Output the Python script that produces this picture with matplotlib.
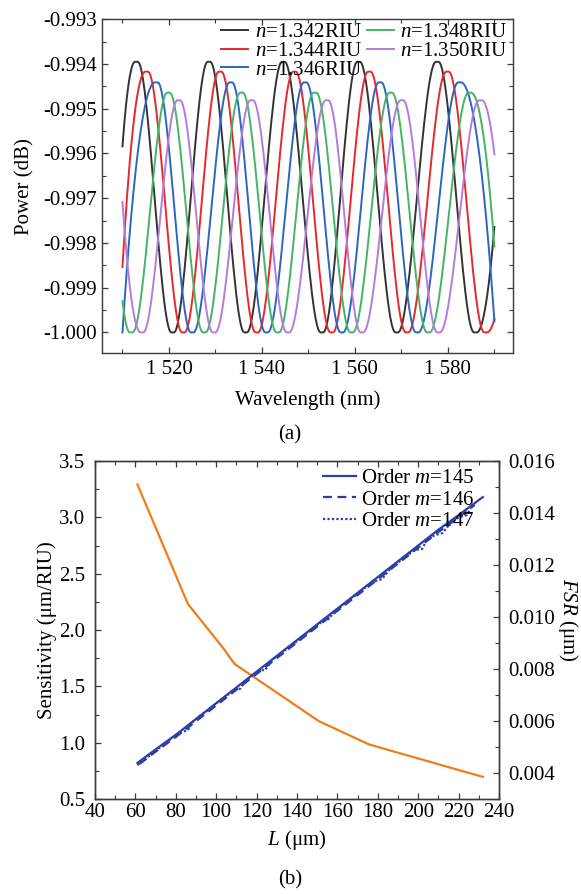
import numpy as np
import matplotlib
matplotlib.use('Agg')
import matplotlib.pyplot as plt
from matplotlib.ticker import MultipleLocator, FuncFormatter

plt.rcParams['font.family'] = ['Liberation Serif', 'DejaVu Serif']
plt.rcParams['mathtext.fontset'] = 'custom'
plt.rcParams['mathtext.rm'] = 'Liberation Serif'
plt.rcParams['mathtext.it'] = 'Liberation Serif:italic'
plt.rcParams['axes.unicode_minus'] = False
plt.rcParams['font.size'] = 15

# ---------------- (a) data ----------------
labels_a = ['$n$=1.342RIU', '$n$=1.344RIU', '$n$=1.346RIU', '$n$=1.348RIU', '$n$=1.350RIU']
colors_a = ['#333333', '#e8282c', '#2b66c2', '#45b467', '#b57bdc']
wl_start = 1510.0
wl_end = 1590.0
p_start = [-0.99584, -0.99854, -1.00000, -0.99930, -0.99708]
p_end = [-0.99764, -0.99970, -0.99975, -0.99808, -0.99602]
p_peak = [-0.99395, -0.99417, -0.99441, -0.99464, -0.99481]
p_trough = -1.000
peaks = [
    [1513.0, 1528.6, 1544.6, 1560.8, 1577.7],
    [1515.2, 1531.0, 1547.0, 1563.1, 1579.9],
    [1517.3, 1533.3, 1549.3, 1565.4, 1582.5],
    [1519.9, 1535.6, 1551.4, 1567.7, 1584.7],
    [1522.1, 1537.8, 1554.0, 1570.1, 1587.0],
]
troughs = [
    [1520.8, 1536.5, 1552.9, 1569.0, 1585.9],
    [1523.1, 1538.9, 1555.0, 1571.2, 1588.1],
    [1525.0, 1541.0, 1557.2, 1573.4],
    [1511.9, 1527.6, 1543.4, 1559.3, 1575.8],
    [1514.2, 1529.7, 1545.6, 1561.5, 1578.0],
]

# ---------------- (b) data ----------------
L_145 = [61, 70, 80, 90, 100, 110, 120, 130, 140, 150, 160, 170, 180, 190, 200, 210, 220, 232]
S_145 = [0.82, 0.94, 1.07, 1.21, 1.35, 1.49, 1.63, 1.77, 1.91, 2.05, 2.19, 2.33, 2.47, 2.61, 2.75, 2.89, 3.02, 3.18]
L_146 = [62, 70, 80, 90, 100, 110, 120, 130, 140, 150, 160, 170, 180, 190, 200, 210, 220, 228]
S_146 = [0.81, 0.92, 1.05, 1.19, 1.33, 1.47, 1.61, 1.75, 1.89, 2.03, 2.17, 2.31, 2.45, 2.59, 2.73, 2.87, 3.00, 3.11]
L_147 = [61, 66, 70, 74, 78, 82, 86, 88, 92, 96, 100, 104, 108, 112, 114, 118, 122, 124, 128, 132,
         136, 140, 144, 148, 152, 156, 158, 162, 166, 170, 174, 178, 182, 186, 190, 194, 198, 202,
         204, 208, 212, 216, 220, 224, 226]
S_147 = [0.80, 0.87, 0.93, 0.98, 1.04, 1.09, 1.11, 1.18, 1.24, 1.29, 1.35, 1.40, 1.46, 1.48, 1.54, 1.60,
         1.65, 1.64, 1.74, 1.79, 1.85, 1.90, 1.96, 2.01, 2.07, 2.10, 2.16, 2.21, 2.27, 2.32, 2.38, 2.43,
         2.45, 2.54, 2.60, 2.65, 2.71, 2.72, 2.79, 2.84, 2.86, 2.95, 3.00, 3.02, 3.08]
labels_b = ['Order $m$=145', 'Order $m$=146', 'Order $m$=147']
L_fsr = [61, 86, 103.5, 109, 150.7, 175.6, 232]
FSR = [0.0151, 0.0105, 0.0088, 0.0082, 0.0060, 0.0051, 0.00385]


def smooth_curve(i, n=30, flat=0.3):
    """Connect start point, extrema and end point with smooth segments."""
    ext = [(w, p_peak[i]) for w in peaks[i]] + [(w, p_trough) for w in troughs[i]]
    ext.sort()
    xs, ys = [], []
    x0, y0 = wl_start, p_start[i]
    x1, y1 = ext[0]
    t = np.linspace(0, 1, n)
    xs.append(x0 + (x1 - flat - x0) * t)
    ys.append(y0 + (y1 - y0) * (2 * t - t ** 2))
    for k in range(len(ext) - 1):
        xa, ya = ext[k]
        xb, yb = ext[k + 1]
        t = np.linspace(0, 1, n)
        xs.append(xa + flat + (xb - xa - 2 * flat) * t)
        ys.append(ya + (yb - ya) * (3 * t ** 2 - 2 * t ** 3))
    xa, ya = ext[-1]
    t = np.linspace(0, 1, n)
    xs.append(xa + flat + (wl_end - xa - flat) * t)
    ys.append(ya + (p_end[i] - ya) * t ** 2)
    return np.concatenate(xs), np.concatenate(ys)


fig = plt.figure(figsize=(5.81, 8.94), dpi=100)
spine_c = '#3a3a3a'

# ---------------- panel (a) ----------------
ax = fig.add_axes([102 / 581, 1 - 353 / 894, 411 / 581, 333.7 / 894])
for i in range(5):
    x, y = smooth_curve(i)
    ax.plot(x, y, color=colors_a[i], lw=1.4, label=labels_a[i])
ax.set_xlim(1505.6, 1594)
ax.set_ylim(-1.00046, -0.993)
ax.xaxis.set_major_locator(MultipleLocator(20))
ax.xaxis.set_minor_locator(MultipleLocator(10))
ax.yaxis.set_major_locator(MultipleLocator(0.001))
ax.yaxis.set_minor_locator(MultipleLocator(0.0005))
ax.xaxis.set_major_formatter(FuncFormatter(lambda v, p: f"{int(round(v)) // 1000} {int(round(v)) % 1000:03d}"))
ax.yaxis.set_major_formatter(FuncFormatter(lambda v, p: f"{v:.3f}"))
ax.tick_params(which='both', direction='in', top=True, right=True, color=spine_c)
ax.tick_params(which='major', length=4.5, width=0.9)
ax.tick_params(which='minor', length=3, width=0.8)
ax.tick_params(axis='y', pad=3.6)
ax.tick_params(axis='x', pad=5)
for s in ax.spines.values():
    s.set_color(spine_c)
    s.set_linewidth(1.0)
ax.set_xlabel('Wavelength (nm)', va='center')
ax.xaxis.set_label_coords(0.5, -0.141)
ax.set_ylabel('Power (dB)', va='center')
ax.yaxis.set_label_coords(-0.187, 0.5)
leg = ax.legend(ncol=2, loc='upper right', bbox_to_anchor=(0.985, 0.99), frameon=False,
                borderpad=0, borderaxespad=0, labelspacing=-0.04, handlelength=1.3,
                handletextpad=0.3, columnspacing=0.25, fontsize=15)
fig.text(290 / 581, 1 - 435 / 894, '(a)', ha='center', va='center')

# ---------------- panel (b) ----------------
bx = fig.add_axes([95 / 581, 1 - 799 / 894, 404 / 581, 338 / 894])
bc = '#2d3fa6'
bx.plot(L_145, S_145, color=bc, lw=1.6, ls='-', label=labels_b[0])
bx.plot(L_146, S_146, color=bc, lw=1.6, ls=(0, (4, 2.5)), label=labels_b[1])
bx.plot(L_147, S_147, color=bc, lw=1.6, ls=(0, (1, 1)), label=labels_b[2])
bx.set_xlim(40, 240)
bx.set_ylim(0.5, 3.5)
bx.xaxis.set_major_locator(MultipleLocator(20))
bx.xaxis.set_minor_locator(MultipleLocator(10))
bx.yaxis.set_major_locator(MultipleLocator(0.5))
bx.yaxis.set_minor_locator(MultipleLocator(0.25))
bx.yaxis.set_major_formatter(FuncFormatter(lambda v, p: f"{v:.1f}"))
bx.tick_params(which='both', direction='in', top=True, color=spine_c)
bx.tick_params(which='major', length=4.5, width=0.9)
bx.tick_params(which='minor', length=3, width=0.8)
bx.tick_params(axis='y', pad=7)
bx.tick_params(axis='x', pad=3)
bx.set_xlabel('$L$ (μm)', va='center')
bx.xaxis.set_label_coords(0.5, -0.121)
bx.set_ylabel('Sensitivity (μm/RIU)', va='center')
bx.yaxis.set_label_coords(-0.118, 0.5)

b2 = bx.twinx()
b2.plot(L_fsr, FSR, color='#f07d1c', lw=1.6)
b2.set_ylim(0.003, 0.016)
b2.yaxis.set_major_locator(MultipleLocator(0.002))
b2.yaxis.set_minor_locator(MultipleLocator(0.001))
b2.yaxis.set_major_formatter(FuncFormatter(lambda v, p: f"{v:.3f}"))
b2.tick_params(which='both', direction='in', color=spine_c)
b2.tick_params(which='major', length=4.5, width=0.9)
b2.tick_params(which='minor', length=3, width=0.8)
b2.tick_params(axis='y', pad=6.5)
b2.set_ylabel('$FSR$ (μm)', rotation=270, va='center')
b2.yaxis.set_label_coords(1.171, 0.53)
for a in (bx, b2):
    for s in a.spines.values():
        s.set_color(spine_c)
        s.set_linewidth(1.0)
bx.set_zorder(b2.get_zorder() + 1)
bx.patch.set_visible(False)
bx.legend(loc='upper right', bbox_to_anchor=(0.94, 0.977), frameon=False, borderpad=0,
          borderaxespad=0, labelspacing=0.08, handlelength=1.6, handletextpad=0.25, fontsize=15)
fig.text(290 / 581, 1 - 880 / 894, '(b)', ha='center', va='center')

fig.savefig('out.png', dpi=100)
